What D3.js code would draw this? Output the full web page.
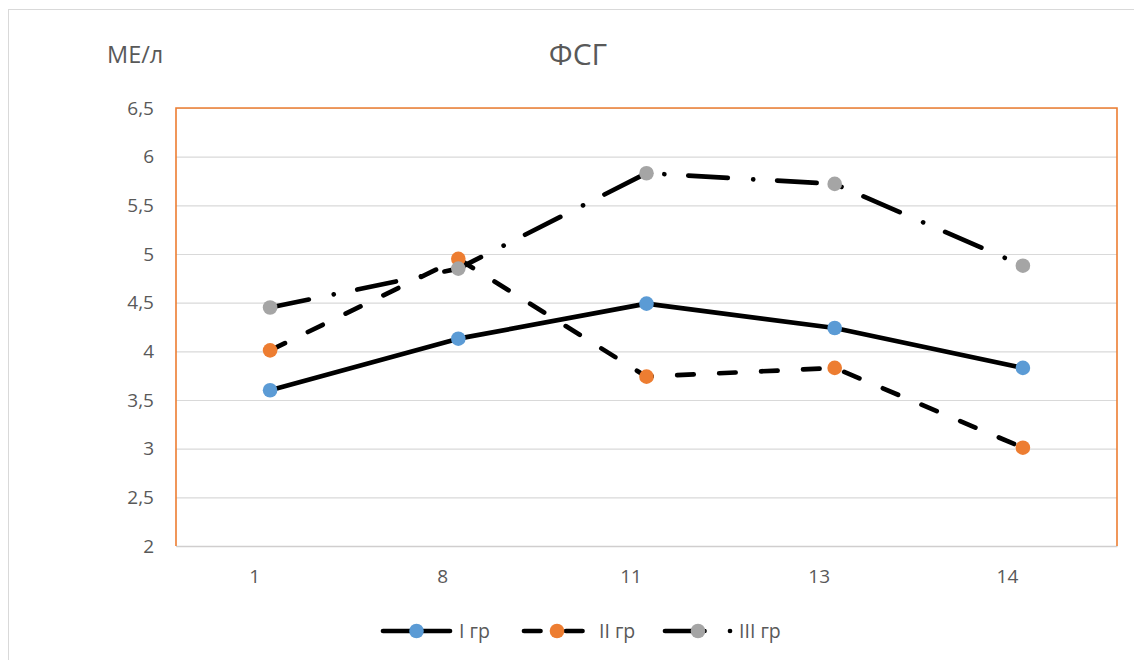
<!DOCTYPE html>
<html>
<head>
<meta charset="utf-8">
<script src="https://cdn.jsdelivr.net/npm/d3@7"></script>
<style>
  html, body { margin: 0; padding: 0; background: #ffffff; }
  svg { display: block; }
  text { font-family: "Open Sans", "Noto Sans", sans-serif; fill: #595959; }
</style>
</head>
<body>
<svg id="chart" width="1134" height="660"></svg>
<script>
// ---- data ----
const categories = ["1", "8", "11", "13", "14"];
const seriesNames = ["I гр", "II гр", "III гр"];
const seriesI = [3.6, 4.13, 4.49, 4.24, 3.83];
const seriesII = [4.01, 4.95, 3.74, 3.83, 3.01];
const seriesIII = [4.45, 4.85, 5.83, 5.72, 4.88];
const yTicks = [2, 2.5, 3, 3.5, 4, 4.5, 5, 5.5, 6, 6.5];
const chartTitle = "ФСГ";
const yUnit = "МЕ/л";

// ---- styles ----
const markerColors = ["#5B9BD5", "#ED7D31", "#A5A5A5"];
const dashes = [null, "16.5,25.5", "39.5,25.5,0.01,24"];
const lineW = 4.7;

const svg = d3.select("#chart");
const plot = { left: 176, top: 108, right: 1117, bottom: 546 };

// outer chart border
svg.append("rect")
  .attr("x", 8.5).attr("y", 9.5)
  .attr("width", 1140).attr("height", 700)
  .attr("fill", "none").attr("stroke", "#d9d9d9").attr("stroke-width", 1);

const x = d3.scalePoint().domain(categories).range([plot.left, plot.right]).padding(0.5);
const y = d3.scaleLinear().domain([2, 6.5]).range([plot.bottom, plot.top]);

// gridlines via axis
const grid = svg.append("g")
  .attr("transform", `translate(${plot.left},0)`)
  .call(d3.axisRight(y).tickValues(yTicks).tickSize(plot.right - plot.left).tickFormat(""));
grid.select(".domain").remove();
grid.selectAll("line").attr("stroke", "#d9d9d9").attr("stroke-width", 1.2);

// y tick labels
const yAxis = svg.append("g")
  .attr("transform", `translate(${plot.left},0)`)
  .call(d3.axisLeft(y).tickValues(yTicks).tickSize(0).tickPadding(22)
    .tickFormat(d => String(d).replace(".", ",")));
yAxis.select(".domain").remove();
yAxis.selectAll("text")
  .attr("font-size", 19).attr("fill", "#595959")
  .style("font-family", '"Open Sans", sans-serif');

// x axis
const xAxis = svg.append("g")
  .attr("transform", `translate(0,${plot.bottom})`)
  .call(d3.axisBottom(x).tickSize(0).tickPadding(24));
xAxis.select(".domain").attr("stroke", "#d0cece").attr("stroke-width", 1.5);
xAxis.selectAll("text")
  .attr("font-size", 19).attr("fill", "#595959").attr("dx", -16)
  .style("font-family", '"Open Sans", sans-serif');

// orange plot border (left, top, right)
svg.append("path")
  .attr("d", `M${plot.left},${plot.bottom}V${plot.top}H${plot.right}V${plot.bottom}`)
  .attr("fill", "none").attr("stroke", "#ED7D31").attr("stroke-width", 1.6);

// series
const allSeries = [seriesI, seriesII, seriesIII];
const line = d3.line().x((d, i) => x(categories[i])).y(d => y(d));

allSeries.forEach((vals, si) => {
  svg.append("path")
    .datum(vals)
    .attr("d", line)
    .attr("fill", "none")
    .attr("stroke", "#000")
    .attr("stroke-width", lineW)
    .attr("stroke-linecap", "round")
    .attr("stroke-linejoin", "round")
    .attr("stroke-dasharray", dashes[si]);
});
allSeries.forEach((vals, si) => {
  svg.append("g").selectAll("circle")
    .data(vals)
    .join("circle")
    .attr("cx", (d, i) => x(categories[i]))
    .attr("cy", d => y(d))
    .attr("r", 7.3)
    .attr("fill", markerColors[si]);
});

// titles
svg.append("text")
  .attr("x", 578).attr("y", 65)
  .attr("text-anchor", "middle")
  .attr("font-size", 30)
  .text(chartTitle);
svg.append("text")
  .attr("x", 107).attr("y", 63)
  .attr("font-size", 23.5)
  .text(yUnit);

// legend
const legendY = 631;
const legendItems = [
  { x0: 383, x1: 450, tx: 459 },
  { x0: 524, x1: 584, tx: 599 },
  { x0: 665, x1: 731, tx: 739 }
];
legendItems.forEach((it, si) => {
  svg.append("line")
    .attr("x1", it.x0).attr("x2", it.x1)
    .attr("y1", legendY).attr("y2", legendY)
    .attr("stroke", "#000").attr("stroke-width", lineW)
    .attr("stroke-linecap", "round")
    .attr("stroke-dasharray", dashes[si]);
  svg.append("circle")
    .attr("cx", [416.5, 557, 698][si]).attr("cy", legendY)
    .attr("r", 7.3).attr("fill", markerColors[si]);
  svg.append("text")
    .attr("x", it.tx).attr("y", legendY + 7)
    .attr("font-size", 19.5)
    .text(seriesNames[si]);
});
</script>
</body>
</html>
